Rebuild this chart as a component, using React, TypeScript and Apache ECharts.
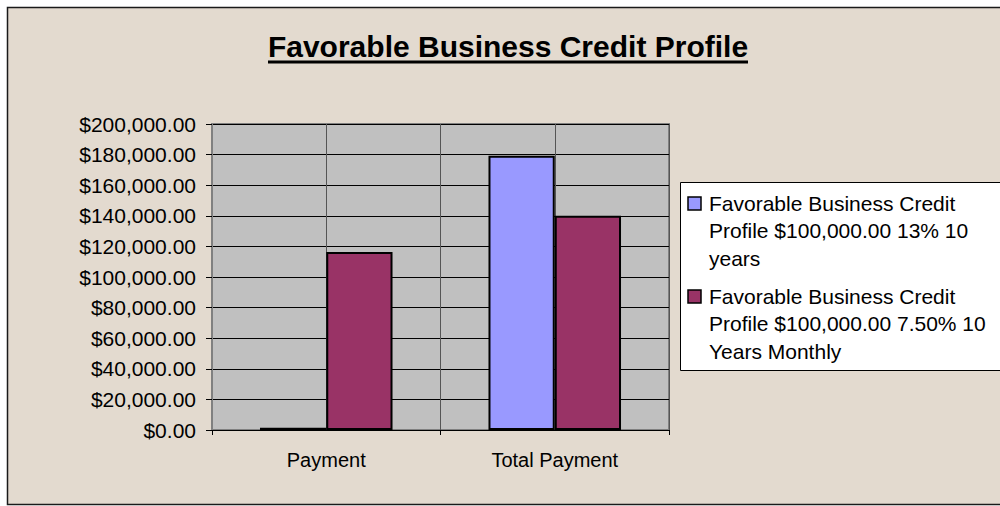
import React, { useEffect, useRef } from "react";
import * as echarts from "echarts";

const titleText = "Favorable Business Credit Profile";
const categories = ["Payment", "Total Payment"];
const seriesNames = [
  "Favorable Business Credit Profile $100,000.00 13% 10 years",
  "Favorable Business Credit Profile $100,000.00 7.50% 10 Years Monthly",
];
const legendLines = [
  ["Favorable Business Credit", "Profile $100,000.00 13% 10", "years"],
  ["Favorable Business Credit", "Profile $100,000.00 7.50% 10", "Years Monthly"],
];
const series13 = [1493, 179173];
const series75 = [116300, 140000];
const seriesColors = ["#9999FF", "#993366"];
const yMin = 0;
const yMax = 200000;
const yInterval = 20000;

const FONT = "'Liberation Sans', Arial, Helvetica, sans-serif";

function money(v: number): string {
  const s = Math.round(v).toString().replace(/\B(?=(\d{3})+(?!\d))/g, ",");
  return "$" + s + ".00";
}

export default function App() {
  const ref = useRef<HTMLDivElement>(null);
  useEffect(() => {
    document.body.style.margin = "0";
    const chart = echarts.init(ref.current!, undefined, { renderer: "svg" });
    const legendGraphics: any[] = [];
    legendGraphics.push({
      type: "rect",
      shape: { x: 680.5, y: 182.5, width: 340, height: 188 },
      style: { fill: "#FFFFFF", stroke: "#000000", lineWidth: 1 },
      z: 10,
    });
    const itemTops = [203, 296];
    legendLines.forEach((lines, i) => {
      legendGraphics.push({
        type: "rect",
        shape: { x: 688, y: itemTops[i] - 6, width: 13, height: 13 },
        style: { fill: seriesColors[i], stroke: "#000000", lineWidth: 1.5 },
        z: 11,
      });
      legendGraphics.push({
        type: "text",
        x: 709,
        y: itemTops[i] - 13.75,
        style: {
          text: lines.join("\n"),
          fill: "#000000",
          font: `21px ${FONT}`,
          lineHeight: 27.5,
          verticalAlign: "top",
          align: "left",
        },
        z: 11,
      });
    });

    chart.setOption({
      animation: false,
      backgroundColor: "#FFFFFF",
      graphic: [
        {
          type: "rect",
          shape: { x: 7.5, y: 7.5, width: 1010, height: 497 },
          style: { fill: "#E3DACF", stroke: "#1A1A1A", lineWidth: 1.5 },
          z: -10,
          silent: true,
        },
        {
          type: "text",
          x: 508,
          y: 46,
          style: {
            text: titleText,
            fill: "#000000",
            font: `bold 30px ${FONT}`,
            align: "center",
            verticalAlign: "middle",
          },
          z: 10,
        },
        {
          type: "line",
          shape: { x1: 268, y1: 62, x2: 748, y2: 62 },
          style: { stroke: "#000000", lineWidth: 3 },
          z: 10,
        },
        ...legendGraphics,
      ],
      grid: {
        left: 212,
        right: 331,
        top: 124,
        bottom: 76,
        show: true,
        backgroundColor: "#C0C0C0",
        borderColor: "#808080",
        borderWidth: 2,
      },
      xAxis: [
        {
          type: "category",
          data: categories,
          axisLine: { show: true, lineStyle: { color: "#000000", width: 1 } },
          axisTick: { show: true, length: 5, interval: 0, lineStyle: { color: "#000000" } },
          axisLabel: {
            color: "#000000",
            fontFamily: FONT,
            fontSize: 20,
            margin: 20,
            interval: 0,
          },
          splitLine: { show: false },
        },
        {
          type: "value",
          min: 0,
          max: 4,
          interval: 1,
          position: "top",
          axisLine: { show: false },
          axisTick: { show: false },
          axisLabel: { show: false },
          splitLine: { show: true, lineStyle: { color: "#555555", width: 1 } },
        },
      ],
      yAxis: {
        type: "value",
        min: yMin,
        max: yMax,
        interval: yInterval,
        axisLine: { show: true, lineStyle: { color: "#808080", width: 2 } },
        axisTick: { show: true, length: 6, lineStyle: { color: "#000000" } },
        axisLabel: {
          color: "#000000",
          fontFamily: FONT,
          fontSize: 21,
          margin: 16,
          formatter: (v: number) => money(v),
        },
        splitLine: { show: true, lineStyle: { color: "#000000", width: 1 } },
      },
      series: [
        {
          type: "bar",
          name: seriesNames[0],
          data: series13,
          xAxisIndex: 0,
          barGap: "0%",
          barCategoryGap: "42%",
          itemStyle: { color: seriesColors[0], borderColor: "#000000", borderWidth: 2 },
        },
        {
          type: "bar",
          name: seriesNames[1],
          data: series75,
          xAxisIndex: 0,
          barGap: "0%",
          barCategoryGap: "42%",
          itemStyle: { color: seriesColors[1], borderColor: "#000000", borderWidth: 2 },
        },
      ],
    });
    return () => chart.dispose();
  }, []);
  return (
    <div
      ref={ref}
      style={{ position: "absolute", left: 0, top: 0, width: 1000, height: 506 }}
    />
  );
}
